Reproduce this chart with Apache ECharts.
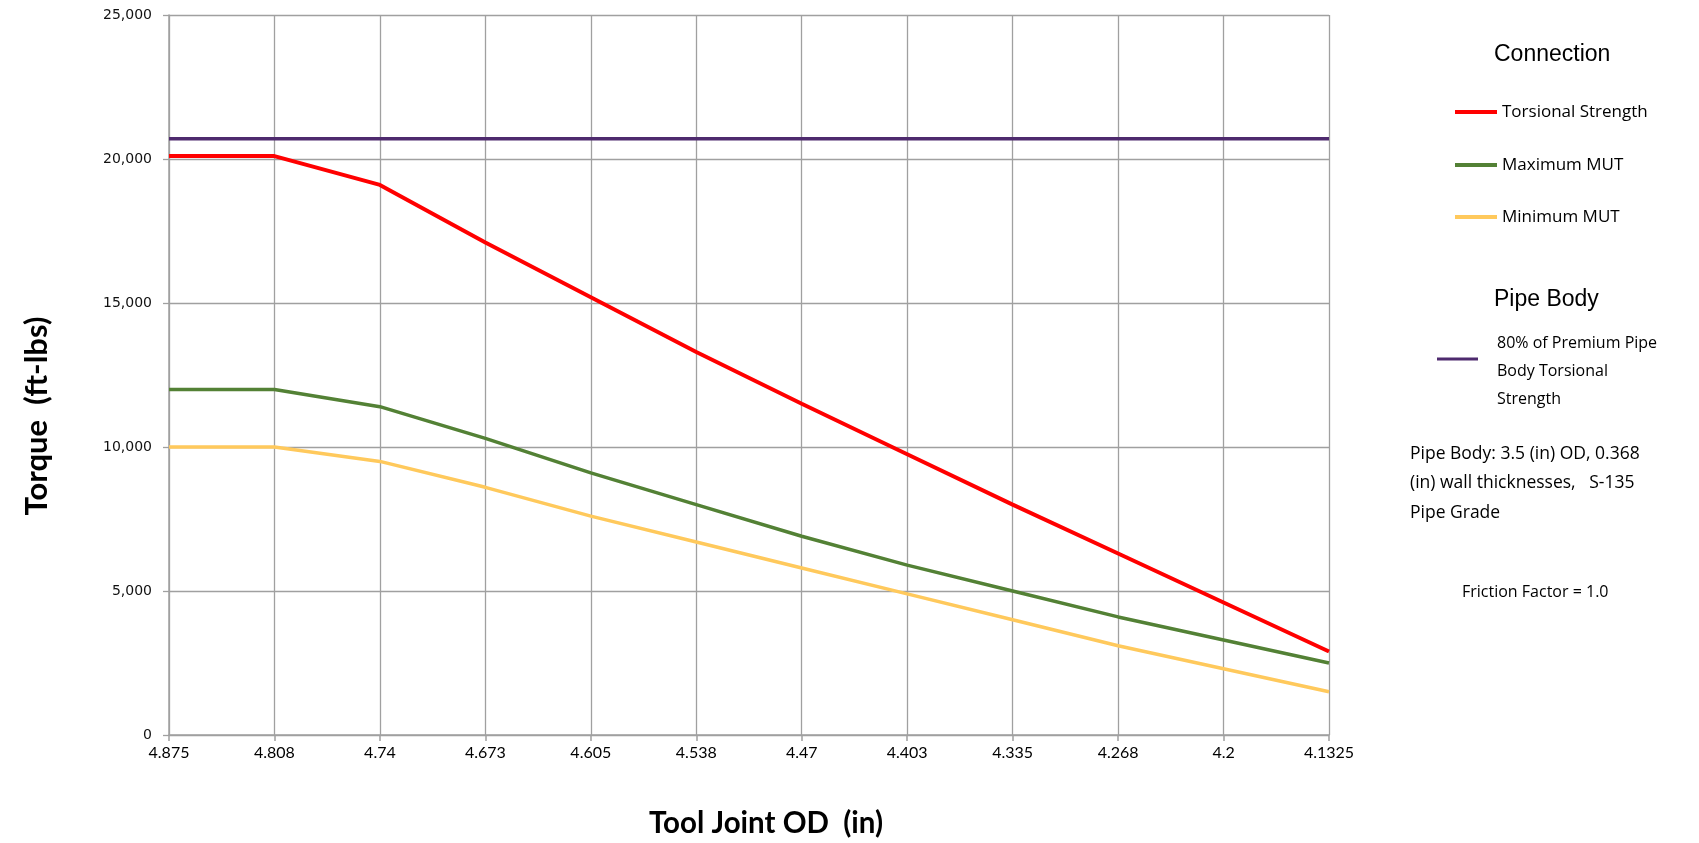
<!DOCTYPE html>
<html>
<head>
<meta charset="utf-8">
<script src="https://cdn.jsdelivr.net/npm/echarts@6/dist/echarts.min.js"></script>
<style>
html,body{margin:0;padding:0;background:#fff;}
#chart{width:1699px;height:843px;}
</style>
</head>
<body>
<div id="chart"></div>
<script>
const categories = ['4.875','4.808','4.74','4.673','4.605','4.538','4.47','4.403','4.335','4.268','4.2','4.1325'];
const torsionalStrength = [20100,20100,19100,17100,15200,13300,11500,9750,8000,6300,4600,2900];
const maximumMUT = [12000,12000,11400,10300,9100,8000,6900,5900,5000,4100,3300,2500];
const minimumMUT = [10000,10000,9500,8600,7600,6700,5800,4900,4000,3100,2300,1500];
const pipeBody80 = [20700,20700,20700,20700,20700,20700,20700,20700,20700,20700,20700,20700];
const yTicks = [0,5000,10000,15000,20000,25000];

const PIPE_NAME = '80% of Premium Pipe Body Torsional Strength';
const C_RED = '#FF0000', C_GREEN = '#538135', C_YELLOW = '#FFC95C', C_PURPLE = '#4E2A6E';
const GRID_C = '#A0A0A0';

const chart = echarts.init(document.getElementById('chart'));
const legendText = {fontFamily:'Open Sans', fontSize:17, color:'#000', lineHeight:20};
function oneLegend(name, color, top, left){
  return {
    data:[{name:name, icon:'rect', itemStyle:{color:color}}],
    left:left, top:top, padding:0, itemWidth:42, itemHeight:4, itemGap:0,
    selectedMode:false, textStyle:legendText
  };
}
chart.setOption({
  animation:false,
  backgroundColor:'#fff',
  grid:{left:169, right:370, top:15, bottom:106, containLabel:false},
  legend:[
    oneLegend('Torsional Strength', C_RED, 102, 1455),
    oneLegend('Maximum MUT', C_GREEN, 155, 1455),
    oneLegend('Minimum MUT', C_YELLOW, 207, 1455),
    {
      data:[{name:PIPE_NAME, icon:'rect', itemStyle:{color:C_PURPLE}}],
      left:1437, top:312, padding:0, itemWidth:41, itemHeight:3, selectedMode:false,
      formatter:function(){return '{sp| }\n{t|80% of Premium Pipe}\n{t|Body Torsional}\n{t|Strength}';},
      textStyle:{fontFamily:'Open Sans', fontSize:16, color:'#000', padding:[0,0,0,14],
        rich:{sp:{fontSize:10, lineHeight:24}, t:{fontFamily:'Open Sans', fontSize:16, color:'#000', lineHeight:28}}}
    }
  ],
  graphic:[
    {type:'text', left:1494, top:43, style:{text:'Connection', font:'23px "Liberation Sans"', fill:'#000'}},
    {type:'text', left:1494, top:288, style:{text:'Pipe Body', font:'23px "Liberation Sans"', fill:'#000'}},
    {type:'text', left:1410, top:439, style:{text:'Pipe Body: 3.5 (in) OD, 0.368\n(in) wall thicknesses,   S-135\nPipe Grade', font:'17.5px "Open Sans"', lineHeight:29.5, fill:'#000'}},
    {type:'text', left:1462, top:584, style:{text:'Friction Factor = 1.0', font:'16px "Open Sans"', fill:'#000'}}
  ],
  xAxis:{
    type:'category', data:categories, boundaryGap:false,
    name:'Tool Joint OD  (in)', nameLocation:'middle', nameGap:73,
    nameTextStyle:{fontFamily:'Lato', fontWeight:'bold', fontSize:29.5, color:'#000', padding:[0,0,0,34]},
    axisLine:{lineStyle:{color:GRID_C, width:1.5}},
    axisTick:{show:true, length:6, lineStyle:{color:GRID_C, width:1.5}},
    axisLabel:{fontFamily:'Lato', fontSize:16, color:'#000', margin:10},
    splitLine:{show:true, lineStyle:{color:GRID_C, width:1.3}}
  },
  yAxis:{
    type:'value', min:0, max:25000, interval:5000,
    name:'Torque  (ft-lbs)', nameLocation:'middle', nameGap:117, nameRotate:90,
    nameTextStyle:{fontFamily:'Lato', fontWeight:'bold', fontSize:31, color:'#000', padding:[0,82,0,0]},
    axisLine:{show:true, lineStyle:{color:GRID_C, width:1.5}},
    axisTick:{show:true, length:6, lineStyle:{color:GRID_C, width:1.3}},
    axisLabel:{fontFamily:'DejaVu Sans', fontSize:14, color:'#111', margin:17,
      formatter:function(v){return v.toLocaleString('en-US');}},
    splitLine:{show:true, lineStyle:{color:GRID_C, width:1.3}}
  },
  series:[
    {name:PIPE_NAME, type:'line', data:pipeBody80, showSymbol:false, lineStyle:{color:C_PURPLE, width:3.5}, itemStyle:{color:C_PURPLE}},
    {name:'Torsional Strength', type:'line', data:torsionalStrength, showSymbol:false, lineStyle:{color:C_RED, width:4}, itemStyle:{color:C_RED}},
    {name:'Maximum MUT', type:'line', data:maximumMUT, showSymbol:false, lineStyle:{color:C_GREEN, width:3.5}, itemStyle:{color:C_GREEN}},
    {name:'Minimum MUT', type:'line', data:minimumMUT, showSymbol:false, lineStyle:{color:C_YELLOW, width:3.5}, itemStyle:{color:C_YELLOW}}
  ]
});
</script>
</body>
</html>
